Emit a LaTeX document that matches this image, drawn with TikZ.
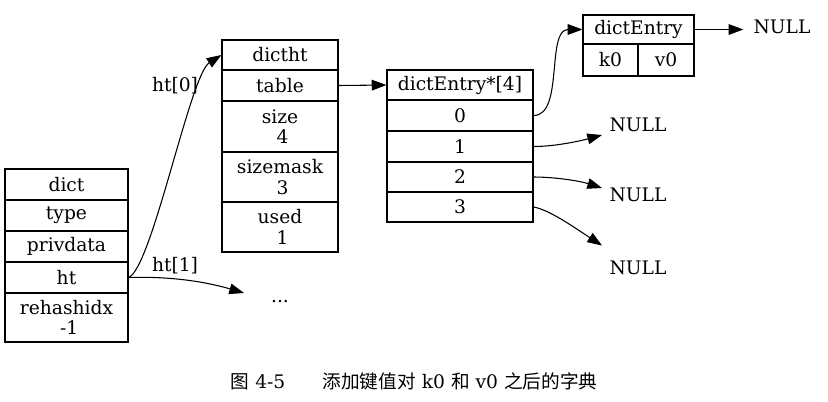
\documentclass[tikz,border=0pt]{standalone}
\usepackage{fontspec}
\setmainfont{DejaVu Serif}
\newfontfamily\cjk{Noto Sans CJK SC}
\usetikzlibrary{arrows.meta,calc}
\begin{document}
\begin{tikzpicture}[x=0.75pt,y=-0.75pt,
  txt/.style={font=\fontsize{14}{15.5}\selectfont},
  cell/.style={txt,draw,line width=0.9pt,inner sep=0pt,align=center},
  dictw/.style={minimum width=92.25pt},
  htw/.style={minimum width=87pt},
  arrw/.style={minimum width=109.5pt},
  entw/.style={minimum width=83.25pt},
  lbl/.style={txt,inner sep=0pt},
  link/.style={line width=0.8pt,-{Triangle[length=11pt,width=8pt]}}]
\useasboundingbox (0,0) rectangle (828,401);
% dict
\node[cell,dictw,minimum height=23.25pt] (d0) at (66.5,184.5) {dict};
\node[cell,dictw,minimum height=23.25pt] (d1) at (66.5,215.5) {type};
\node[cell,dictw,minimum height=23.25pt] (d2) at (66.5,246.5) {privdata};
\node[cell,dictw,minimum height=23.25pt] (d3) at (66.5,277.5) {ht};
\node[cell,dictw,minimum height=36.75pt] (d4) at (66.5,317.5) {rehashidx\\\hspace*{4pt}-1};
% dictht
\node[cell,htw,minimum height=22.5pt] (h0) at (280,55) {dictht};
\node[cell,htw,minimum height=23.25pt] (h1) at (280,85.5) {table};
\node[cell,htw,minimum height=38.25pt] (h2) at (280,126.5) {size\\\hspace*{4pt}4};
\node[cell,htw,minimum height=37.5pt] (h3) at (280,177) {sizemask\\\hspace*{4pt}3};
\node[cell,htw,minimum height=37.5pt] (h4) at (280,227) {used\\\hspace*{4pt}1};
% dictEntry*[4]
\node[cell,arrw,minimum height=22.5pt] (e0) at (460,85) {dictEntry*[4]};
\node[cell,arrw,minimum height=23.25pt] (e1) at (460,115.5) {0};
\node[cell,arrw,minimum height=23.25pt] (e2) at (460,146.5) {1};
\node[cell,arrw,minimum height=22.5pt] (e3) at (460,177) {2};
\node[cell,arrw,minimum height=22.5pt] (e4) at (460,207) {3};
% dictEntry
\node[cell,entw,minimum height=21.75pt] (de) at (638.5,29.5) {dictEntry};
\node[cell,minimum width=41.25pt,minimum height=24pt] (k0) at (610.5,60) {k0};
\node[cell,minimum width=42pt,minimum height=24pt] (v0) at (666,60) {v0};
% NULLs and others
\node[lbl,inner xsep=7.5pt] (n0) at (782,27) {NULL};
\node[lbl] (n1) at (638,125) {NULL};
\node[lbl] (n2) at (638,195) {NULL};
\node[lbl] (n3) at (638,268) {NULL};
\node[lbl] (dots) at (280,302) {...};
\coordinate (c1) at ($(n1)+(-36,10)$);
\coordinate (c2) at ($(n2)+(-36,-7)$);
\coordinate (c3) at ($(n3)+(-36,-22.5)$);
\coordinate (c4) at ($(dots)+(-36,-9)$);
% connectors
\draw[link] (d3.east) .. controls (152,268) and (190,75) .. (h0.west);
\node[lbl] (l0) at (175,86) {ht[0]};
\draw[link] (d3.east) .. controls (175,276) and (210,283) .. (c4);
\node[lbl] (l1) at (175,266) {ht[1]};
\draw[link] (h1.east) -- (e0.west);
\draw[link] (e1.east) .. controls (564,115.5) and (546,29.5) .. (de.west);
\draw[link] (de.east) -- (de.east -| n0.west);
\draw[link] (e2.east) .. controls (555,146.5) and (580,141) .. (c1);
\draw[link] (e3.east) .. controls (555,177) and (580,181) .. (c2);
\draw[link] (e4.east) .. controls (550,210) and (575,228) .. (c3);
% caption
\node[lbl] (cap) at (414,381) {{\cjk 图} 4-5\quad\quad{\cjk 添加键值对} k0 {\cjk 和} v0 {\cjk 之后的字典}};
\end{tikzpicture}
\end{document}
